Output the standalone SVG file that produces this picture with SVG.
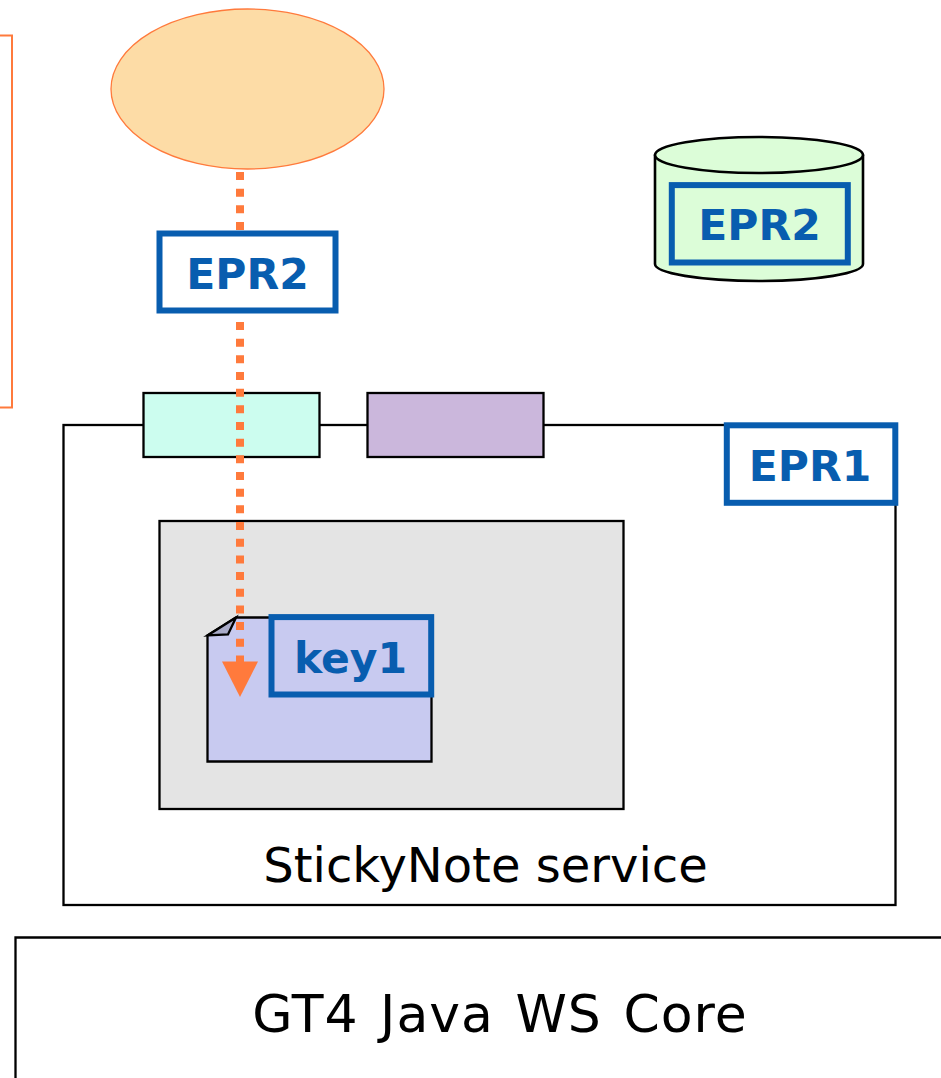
<svg xmlns="http://www.w3.org/2000/svg" width="941" height="1078" viewBox="0 0 941 1078">
<style>
.o{stroke:#000;stroke-width:2.300}
.epr{stroke:#085daf;stroke-width:6}
.b{font-family:"DejaVu Sans",Verdana,sans-serif;font-weight:700;font-size:42.500px;fill:#085daf;text-anchor:middle}
.t{font-family:"DejaVu Sans",Verdana,sans-serif;fill:#000;text-anchor:middle}
</style>
<rect width="941" height="1078" fill="#fff"/>
<g id="left-box"><path d="M0 35.500H12V407.500H0" fill="none" stroke="#ff7a3c" stroke-width="2"/></g>
<g id="client"><ellipse cx="247.500" cy="89" rx="136.500" ry="80" fill="#fddca6" stroke="#ff7a3c" stroke-width="1.300"/></g>
<g id="service">
<rect x="63.500" y="425" width="832" height="480" fill="#fff" class="o"/>
<text x="485.500" y="882" class="t" font-size="48">StickyNote service</text>
</g>
<g id="port-a"><rect x="143.500" y="393" width="176" height="64" fill="#ccfdef" class="o"/></g>
<g id="port-b"><rect x="367.500" y="393" width="176" height="64" fill="#cbb7dc" class="o"/></g>
<g id="home"><rect x="159.500" y="521" width="464" height="288" fill="#e4e4e4" class="o"/></g>
<g id="resource">
<path d="M236 617.500H431.500V761.500H207.500V635.500Z" fill="#c8caf0" class="o"/>
<path d="M207.500 635.500L236 617.500L228 634.500Z" fill="#a9abc9" class="o"/>
</g>
<g id="key1"><rect x="271.500" y="617.100" width="159.700" height="77.400" fill="none" class="epr"/><text x="350.500" y="673" class="b">key1</text></g>
<g id="epr2-client"><rect x="159.500" y="233.500" width="176" height="77" fill="#fff" class="epr"/><text x="247.500" y="289" class="b">EPR2</text></g>
<g id="epr1"><rect x="726.800" y="425.300" width="168.500" height="77.500" fill="#fff" class="epr"/><text x="810" y="481" class="b">EPR1</text></g>
<g id="store">
<path d="M655 155V264C655 273 700 281 759 281S863 273 863 264V155Z" fill="#dcfdd8" stroke="#000" stroke-width="2.600" stroke-linejoin="round"/>
<ellipse cx="759" cy="155" rx="104" ry="18" fill="#dcfdd8" stroke="#000" stroke-width="2.600"/>
<rect x="671.800" y="185.100" width="176" height="77.400" fill="none" class="epr"/>
<text x="759.500" y="240" class="b">EPR2</text>
</g>
<g id="core">
<path d="M15.500 1078V937.500H941" fill="#fff" class="o"/>
<text x="500" y="1032" class="t" font-size="52" letter-spacing="1" word-spacing="4">GT4 Java WS Core</text>
</g>
<g id="connectors">
<path d="M240 172V232" fill="none" stroke="#ff7a3c" stroke-width="8" stroke-dasharray="8 8.670"/>
<path d="M240 322V664" fill="none" stroke="#ff7a3c" stroke-width="8" stroke-dasharray="8 8.670"/>
<path d="M222 661.500H258L240 697Z" fill="#ff7a3c"/>
</g>
</svg>
